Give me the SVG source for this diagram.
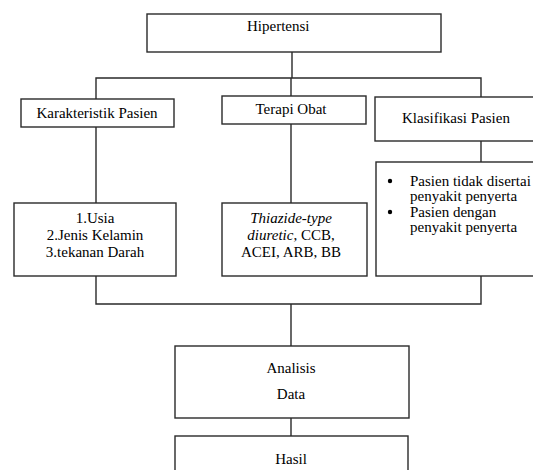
<svg xmlns="http://www.w3.org/2000/svg" width="533" height="470" viewBox="0 0 533 470">
<style>
.box{fill:#fff;stroke:#2a2a2a;stroke-width:1.4}
.ln{fill:none;stroke:#2a2a2a;stroke-width:1.4}
text{font-family:"Liberation Serif","Times New Roman",serif;font-size:15px;fill:#000}
.c{text-anchor:middle}
</style>
<rect width="533" height="470" fill="#fff"/>
<g id="connectors">
<path class="ln" d="M292 52V78M96 99V78H481V97M291 78V96"/>
<path class="ln" d="M96 127V203M291 124V203M481 141V162"/>
<path class="ln" d="M96 276V304H481V276M291 304V346M291 418V436"/>
</g>
<g id="hipertensi">
<rect class="box" x="147" y="14" width="294" height="38"/>
<text x="247" y="31">Hipertensi</text>
</g>
<g id="karakteristik">
<rect class="box" x="21" y="99" width="153" height="28"/>
<text class="c" x="97" y="118">Karakteristik Pasien</text>
</g>
<g id="terapi">
<rect class="box" x="222" y="96" width="144" height="28"/>
<text class="c" x="291" y="114">Terapi Obat</text>
</g>
<g id="klasifikasi">
<rect class="box" x="375" y="97" width="170" height="44"/>
<text x="402" y="123">Klasifikasi Pasien</text>
</g>
<g id="karakteristik-detail">
<rect class="box" x="14" y="203" width="162" height="73"/>
<text class="c" x="95" y="223">1.Usia</text>
<text class="c" x="95" y="240">2.Jenis Kelamin</text>
<text class="c" x="95" y="257">3.tekanan Darah</text>
</g>
<g id="terapi-detail">
<rect class="box" x="222" y="203" width="145" height="73"/>
<text class="c" x="291" y="223" font-style="italic">Thiazide-type</text>
<text class="c" x="291" y="240"><tspan font-style="italic">diuretic</tspan>, CCB,</text>
<text class="c" x="291" y="257">ACEI, ARB, BB</text>
</g>
<g id="klasifikasi-detail">
<rect class="box" x="376" y="162" width="170" height="114"/>
<circle cx="390" cy="181" r="2.2" fill="#000"/>
<text x="410" y="186">Pasien tidak disertai</text>
<text x="410" y="201">penyakit penyerta</text>
<circle cx="390" cy="212" r="2.2" fill="#000"/>
<text x="410" y="217">Pasien dengan</text>
<text x="410" y="232">penyakit penyerta</text>
</g>
<g id="analisis">
<rect class="box" x="175" y="346" width="234" height="72"/>
<text class="c" x="291" y="373">Analisis</text>
<text class="c" x="291" y="399">Data</text>
</g>
<g id="hasil">
<rect class="box" x="175" y="436" width="233" height="50"/>
<text class="c" x="291" y="464">Hasil</text>
</g>
</svg>
